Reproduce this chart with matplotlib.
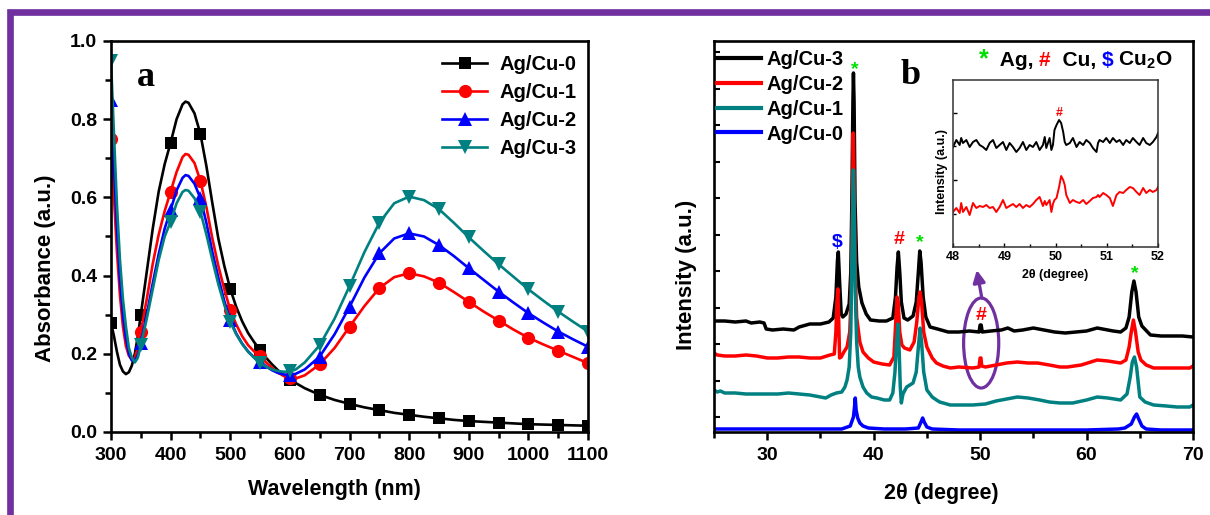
import matplotlib
matplotlib.use("Agg")
import numpy as np
import matplotlib.pyplot as plt
from matplotlib.lines import Line2D
from matplotlib.patches import Ellipse, FancyArrowPatch
from matplotlib.ticker import MultipleLocator, FixedLocator, NullFormatter
from matplotlib.offsetbox import TextArea, HPacker, AnchoredOffsetbox

plt.rcParams["font.family"] = ["Liberation Sans", "DejaVu Sans"]
plt.rcParams["font.weight"] = "bold"
plt.rcParams["axes.labelweight"] = "bold"
plt.rcParams["mathtext.fontset"] = "custom"
plt.rcParams["mathtext.rm"] = "Liberation Sans:bold"
plt.rcParams["mathtext.bf"] = "Liberation Sans:bold"
plt.rcParams["mathtext.it"] = "Liberation Sans:bold"

# ---------------- UV-vis absorbance (panel a) ----------------
wavelength = [300, 305, 310, 315, 320, 325, 330, 335, 340, 345, 350,
              360, 370, 380, 390, 400, 410, 420, 425, 430,
              440, 450, 460, 470, 480, 490, 500, 510, 520, 530, 540,
              550, 560, 570, 580, 590, 600, 610,
              625, 650, 675, 700, 725, 750, 775, 800, 825, 850, 875,
              900, 925, 950, 975, 1000, 1025, 1050, 1075, 1100]

abs_ag_cu0 = [0.28, 0.245, 0.205, 0.172, 0.155, 0.148, 0.153, 0.17, 0.20, 0.245, 0.30,
              0.41, 0.52, 0.615, 0.685, 0.74, 0.80, 0.838, 0.845, 0.842,
              0.815, 0.762, 0.68, 0.585, 0.495, 0.425, 0.366, 0.32, 0.283, 0.253, 0.23,
              0.21, 0.19, 0.173, 0.158, 0.145, 0.134, 0.125,
              0.112, 0.095, 0.082, 0.072, 0.063, 0.056, 0.049, 0.044, 0.039, 0.035, 0.031,
              0.028, 0.026, 0.024, 0.022, 0.020, 0.019, 0.018, 0.017, 0.016]

abs_ag_cu1 = [0.75, 0.60, 0.46, 0.35, 0.27, 0.22, 0.195, 0.185, 0.19, 0.215, 0.256,
              0.34, 0.43, 0.505, 0.565, 0.615, 0.665, 0.703, 0.711, 0.709,
              0.688, 0.642, 0.575, 0.495, 0.425, 0.365, 0.312, 0.275, 0.245, 0.222, 0.206,
              0.194, 0.178, 0.164, 0.152, 0.143, 0.138, 0.137,
              0.145, 0.173, 0.215, 0.269, 0.322, 0.368, 0.396, 0.406, 0.398, 0.382, 0.358,
              0.333, 0.308, 0.285, 0.262, 0.241, 0.224, 0.208, 0.192, 0.176]

abs_ag_cu2 = [0.85, 0.68, 0.52, 0.39, 0.30, 0.24, 0.20, 0.183, 0.182, 0.197, 0.227,
              0.30, 0.38, 0.455, 0.52, 0.568, 0.618, 0.65, 0.657, 0.655,
              0.635, 0.598, 0.535, 0.46, 0.395, 0.335, 0.286, 0.252, 0.226, 0.206, 0.191,
              0.18, 0.168, 0.158, 0.151, 0.147, 0.146, 0.149,
              0.16, 0.193, 0.25, 0.32, 0.395, 0.457, 0.495, 0.508, 0.50, 0.478, 0.45,
              0.419, 0.389, 0.359, 0.331, 0.304, 0.28, 0.257, 0.237, 0.218]

abs_ag_cu3 = [0.95, 0.76, 0.58, 0.44, 0.34, 0.27, 0.215, 0.19, 0.178, 0.19, 0.222,
              0.29, 0.365, 0.44, 0.50, 0.538, 0.585, 0.614, 0.619, 0.617,
              0.598, 0.563, 0.505, 0.44, 0.378, 0.325, 0.282, 0.25, 0.225, 0.205, 0.19,
              0.176, 0.167, 0.16, 0.156, 0.154, 0.155, 0.16,
              0.178, 0.222, 0.29, 0.373, 0.46, 0.535, 0.585, 0.602, 0.593, 0.57, 0.535,
              0.498, 0.463, 0.429, 0.397, 0.365, 0.336, 0.308, 0.282, 0.257]

uv_labels = ["Ag/Cu-0", "Ag/Cu-1", "Ag/Cu-2", "Ag/Cu-3"]

# ---------------- XRD patterns (panel b), stacked with offsets ----------------
tt_cu3 = [25.0, 26.0, 27.0, 28.0, 28.5, 29.3, 29.7, 29.9, 30.5, 31.5, 32.5, 33.0, 34.0, 35.0,
          35.8, 36.2, 36.45, 36.6, 36.68, 36.8, 36.95, 37.1, 37.4, 37.7, 37.85, 37.95, 38.05,
          38.1, 38.16, 38.25, 38.4, 38.6, 38.9, 39.3, 39.7, 40.5, 41.2, 41.8, 42.05, 42.2,
          42.32, 42.45, 42.6, 42.85, 43.2, 43.7, 44.0, 44.2, 44.33, 44.45, 44.65, 44.9, 45.3,
          46.0, 47.0, 48.0, 49.0, 49.9, 50.0, 50.1, 50.2, 51.0, 52.0, 52.6, 53.2, 54.0, 55.0,
          56.0, 57.0, 58.0, 59.0, 60.0, 61.0, 61.5, 62.5, 63.2, 63.7, 64.0, 64.25, 64.45,
          64.65, 64.9, 65.2, 66.0, 67.0, 68.0, 69.0, 70.0]
int_cu3 = [111, 111, 110, 111, 109, 110, 109, 103, 102, 103, 102, 105, 108, 108,
           110, 114, 135, 172, 180, 150, 118, 115, 118, 128, 160, 230, 330,
           359, 330, 230, 170, 145, 129, 118, 112, 111, 111, 114, 135, 165,
           180, 160, 130, 114, 112, 116, 130, 160, 181, 170, 135, 115, 105,
           103, 100, 100, 101, 100, 107, 107, 100, 101, 102, 104, 101, 102, 104,
           102, 100, 99, 100, 101, 104, 103, 101, 100, 104, 115, 140, 151,
           140, 115, 106, 97, 96, 96, 96, 95]

tt_cu2 = [25.0, 25.3, 26.0, 27.0, 28.0, 29.0, 30.0, 31.0, 32.0, 33.0, 34.0, 35.0, 35.9,
          36.3, 36.45, 36.55, 36.63, 36.72, 36.8, 36.95, 37.2, 37.5, 37.75, 37.9, 38.0,
          38.08, 38.15, 38.25, 38.4, 38.7, 39.0, 39.5, 40.0, 40.8, 41.5, 41.9, 42.05, 42.2,
          42.3, 42.45, 42.65, 42.9, 43.4, 43.8, 44.05, 44.25, 44.36, 44.5, 44.7, 45.0, 45.5,
          45.9, 46.5, 47.2, 48.0, 49.3, 49.9, 50.0, 50.08, 50.15, 50.5, 51.5, 52.5, 53.5,
          54.5, 55.4, 56.5, 57.5, 58.2, 59.5, 61.0, 62.0, 63.2, 63.7, 64.0, 64.2, 64.4, 64.6,
          64.85, 65.1, 65.6, 66.3, 67.5, 68.5, 69.7, 70.0]
int_cu2 = [79, 77, 76, 76, 77, 76, 74, 74, 75, 75, 74, 74, 77,
           78, 100, 130, 143, 110, 74, 75, 80, 85, 100, 140, 220,
           299, 260, 170, 115, 90, 80, 74, 70, 68, 67, 75, 105, 135,
           130, 100, 87, 84, 82, 90, 110, 135, 140, 130, 100, 85, 74,
           69, 66, 64, 65, 64, 65, 74, 74, 66, 65, 67, 69, 70,
           69, 69, 67, 65, 65, 67, 72, 71, 69, 72, 85, 100, 112, 100,
           80, 72, 67, 64, 64, 64, 64, 66]

tt_cu1 = [25.0, 25.3, 25.6, 26.0, 27.0, 28.0, 29.0, 30.0, 31.0, 32.0, 33.0, 34.0, 35.0,
          35.5, 36.0, 36.5, 37.0, 37.3, 37.5, 37.7, 37.85, 37.95, 38.05, 38.1, 38.17, 38.27,
          38.4, 38.55, 38.7, 39.0, 39.35, 39.8, 40.3, 41.0, 41.5, 41.8, 42.0, 42.15, 42.28,
          42.4, 42.5, 42.6, 42.75, 43.1, 43.7, 44.0, 44.2, 44.36, 44.5, 44.7, 45.0, 45.5,
          45.9, 46.2, 47.2, 48.5, 49.3, 50.5, 51.5, 52.5, 53.5, 54.5, 55.6, 56.5, 57.5, 58.7,
          60.0, 61.0, 62.0, 63.2, 63.8, 64.1, 64.3, 64.5, 64.7, 64.9, 65.0, 65.5, 66.3, 67.5,
          68.5, 69.7, 70.0]
int_cu1 = [42, 40, 41, 39, 39, 38, 38, 38, 38, 39, 38, 37, 35,
           34, 37, 39, 40, 45, 52, 65, 100, 170, 240, 262, 220, 140,
           90, 65, 55, 45, 39, 35, 34, 32, 32, 39, 60, 90, 108,
           80, 45, 29, 38, 45, 49, 60, 85, 104, 90, 60, 42, 35,
           32, 30, 27, 27, 27, 28, 31, 33, 35, 34, 32, 30, 29, 29,
           32, 35, 34, 32, 38, 55, 70, 75, 65, 45, 35, 30, 27, 26,
           25, 25, 27]

tt_cu0 = [25.0, 27.0, 30.0, 33.0, 35.0, 37.0, 37.8, 38.1, 38.2, 38.27, 38.35, 38.5, 38.7,
          39.0, 39.5, 41.0, 43.0, 44.2, 44.45, 44.6, 44.75, 45.0, 45.5, 48.0, 52.0, 56.0,
          60.0, 63.0, 63.6, 64.2, 64.5, 64.7, 64.9, 65.2, 65.6, 67.0, 70.0]
int_cu0 = [3, 3, 3, 3, 3, 3, 6, 15, 25, 34, 22, 14, 9,
           6, 4, 3, 3, 4, 10, 14, 10, 5, 3, 2, 2, 2,
           2, 3, 4, 8, 15, 18, 13, 6, 3, 2, 2]

# zoomed region 48-52 degrees (inset)
tt_zoom = [48.0, 48.065, 48.13, 48.16, 48.195, 48.26, 48.325, 48.39, 48.455, 48.52, 48.585,
           48.65, 48.715, 48.78, 48.845, 48.91, 48.975, 49.04, 49.105, 49.17, 49.235, 49.3,
           49.365, 49.43, 49.495, 49.56, 49.625, 49.69, 49.755, 49.79, 49.82, 49.885, 49.92,
           49.95, 49.98, 50.02, 50.07, 50.11, 50.15, 50.18, 50.21, 50.28, 50.34, 50.41, 50.47,
           50.54, 50.6, 50.67, 50.73, 50.8, 50.83, 50.86, 50.93, 50.99, 51.06, 51.12, 51.19,
           51.25, 51.32, 51.38, 51.45, 51.51, 51.58, 51.64, 51.71, 51.77, 51.84, 51.9, 51.97,
           52.0]
zoom_cu3 = [100, 107, 102, 109, 104, 107, 100, 105, 107, 102, 100, 97, 104, 107, 99, 102,
            105, 97, 104, 100, 95, 99, 105, 97, 102, 100, 105, 97, 102, 110, 99, 109, 97,
            102, 117, 122, 127, 124, 115, 105, 102, 104, 109, 100, 105, 102, 107, 104, 99,
            95, 104, 107, 105, 109, 104, 109, 105, 107, 102, 107, 104, 109, 105, 102, 109,
            104, 102, 105, 110, 114]
zoom_cu2 = [35, 39, 34, 44, 35, 40, 32, 44, 39, 41, 40, 42, 39, 40, 35, 40, 47, 39, 41,
            43, 40, 43, 39, 42, 40, 43, 47, 50, 41, 46, 42, 47, 35, 43, 47, 49, 60, 71, 67,
            62, 52, 44, 47, 45, 44, 47, 43, 46, 49, 50, 52, 50, 54, 52, 49, 41, 52, 55, 54,
            57, 60, 59, 55, 52, 59, 54, 57, 55, 57, 60]

xrd_labels = ["Ag/Cu-3", "Ag/Cu-2", "Ag/Cu-1", "Ag/Cu-0"]

# ---------------- figure layout ----------------
W, H = 1210, 515
fig = plt.figure(figsize=(W / 100, H / 100), dpi=100)
fig.patch.set_facecolor("white")


def px_box(x0, y0, x1, y1):
    return [x0 / W, 1 - y1 / H, (x1 - x0) / W, (y1 - y0) / H]


ax_a = fig.add_axes(px_box(111, 41, 588, 432))
ax_b = fig.add_axes(px_box(714, 41, 1193, 432))
ax_in = fig.add_axes(px_box(953, 80, 1158, 247))

PURPLE = "#7030a0"
TEAL = "#008080"
LIME = "#00e000"

# border of the figure (left and top edges)
fig.add_artist(Line2D([10.3 / W, 10.3 / W, 1.0], [0.0, 1 - 12 / H, 1 - 12 / H],
                      transform=fig.transFigure, color=PURPLE, lw=4.8,
                      solid_joinstyle="miter", solid_capstyle="butt"))

# ---------- panel a ----------
wl = np.array(wavelength)
mark_idx = [i for i, w in enumerate(wavelength) if w % 50 == 0]
series_a = [abs_ag_cu0, abs_ag_cu1, abs_ag_cu2, abs_ag_cu3]
colors_a = ["black", "red", "blue", TEAL]
markers_a = ["s", "o", "^", "v"]
msizes_a = [9, 9.5, 10, 10]
for vals, lab, c, m, ms in zip(series_a, uv_labels, colors_a, markers_a, msizes_a):
    ax_a.plot(wl, vals, color=c, lw=1.9, marker=m, ms=ms, markevery=mark_idx,
              markeredgewidth=0, label=lab)

ax_a.set_xlim(300, 1100)
ax_a.set_ylim(0, 1.0)
ax_a.xaxis.set_major_locator(MultipleLocator(100))
ax_a.xaxis.set_minor_locator(MultipleLocator(50))
ax_a.yaxis.set_major_locator(MultipleLocator(0.2))
ax_a.yaxis.set_minor_locator(MultipleLocator(0.1))
ax_a.yaxis.set_major_formatter(matplotlib.ticker.FormatStrFormatter("%.1f"))
ax_a.tick_params(which="both", direction="out", width=1.8, top=False, right=False,
                 labelsize=14)
ax_a.tick_params(which="major", length=6, pad=4)
ax_a.tick_params(axis="x", which="major", pad=5)
ax_a.tick_params(which="minor", length=4)
for sp in ax_a.spines.values():
    sp.set_linewidth(1.9)
ax_a.set_xlabel("Wavelength (nm)", fontsize=15.5, va="center")
ax_a.xaxis.set_label_coords((334 - 111) / 477, (432 - 490) / 391)
ax_a.set_ylabel("Absorbance (a.u.)", fontsize=16, va="center")
ax_a.yaxis.set_label_coords((46 - 111) / 477, (432 - 268) / 391)
ax_a.text((146 - 111) / 477, (432 - 78) / 391, "a", transform=ax_a.transAxes,
          family="Liberation Serif", fontsize=26, fontweight="bold",
          ha="center", va="center")
leg_a = ax_a.legend(loc="upper left", bbox_to_anchor=((442 - 111) / 477, (432 - 55) / 391),
                    frameon=False, fontsize=14.5, handlelength=2.25, handletextpad=0.6,
                    labelspacing=0.44, borderpad=0, borderaxespad=0)

# ---------- panel b ----------
series_b = [(tt_cu3, int_cu3), (tt_cu2, int_cu2), (tt_cu1, int_cu1), (tt_cu0, int_cu0)]
colors_b = ["black", "red", TEAL, "blue"]
for (tt, ii), lab, c in zip(series_b, xrd_labels, colors_b):
    ax_b.plot(tt, ii, color=c, lw=2.5, label=lab)

ax_b.set_xlim(25, 70)
ax_b.set_ylim(0, 391)
ax_b.xaxis.set_major_locator(MultipleLocator(10))
ax_b.xaxis.set_minor_locator(MultipleLocator(5))
ax_b.yaxis.set_major_locator(FixedLocator([15 + 36.5 * k for k in range(11)]))
ax_b.yaxis.set_major_formatter(NullFormatter())
ax_b.tick_params(axis="x", which="both", direction="out", width=1.8, top=False,
                 labelsize=14)
ax_b.tick_params(axis="x", which="major", length=6, pad=5)
ax_b.tick_params(axis="x", which="minor", length=4)
ax_b.tick_params(axis="y", which="both", direction="in", length=4, width=1.5,
                 right=False)
for sp in ax_b.spines.values():
    sp.set_linewidth(1.9)
ax_b.set_xlabel("2θ (degree)", fontsize=15.5, va="center")
ax_b.xaxis.set_label_coords((941 - 714) / 479, (432 - 494) / 391)
ax_b.set_ylabel("Intensity (a.u.)", fontsize=16, va="center")
ax_b.yaxis.set_label_coords((686 - 714) / 479, (432 - 275) / 391)
ax_b.text((911 - 714) / 479, (432 - 75) / 391, "b", transform=ax_b.transAxes,
          family="Liberation Serif", fontsize=26, fontweight="bold",
          ha="center", va="center")
leg_b = ax_b.legend(loc="upper left", bbox_to_anchor=((717 - 714) / 479, (432 - 50) / 391),
                    frameon=False, fontsize=14.5, handlelength=2.2, handletextpad=0.25,
                    labelspacing=0.29, borderpad=0, borderaxespad=0)
for h in leg_b.legend_handles:
    h.set_linewidth(3)

# phase markers above the diffraction peaks
peak_marks = [(36.56, 185, "$", "blue"), (42.39, 188, "#", "red"),
              (44.36, 185, "*", LIME), (38.25, 358, "*", LIME),
              (64.57, 154, "*", LIME), (50.09, 112, "#", "red")]
for x, y, s, c in peak_marks:
    ax_b.text(x, y, s, color=c, fontsize=14, fontweight="bold", ha="center",
              va="baseline", parse_math=False)

# phase legend: * Ag, # Cu, $ Cu2O
pieces = [TextArea("*", textprops=dict(color=LIME, fontsize=18, fontweight="bold", parse_math=False)),
          TextArea("  Ag, ", textprops=dict(color="black", fontsize=15, fontweight="bold")),
          TextArea("#", textprops=dict(color="red", fontsize=15, fontweight="bold", parse_math=False)),
          TextArea("  Cu, ", textprops=dict(color="black", fontsize=15, fontweight="bold")),
          TextArea("$", textprops=dict(color="blue", fontsize=15, fontweight="bold", parse_math=False)),
          TextArea(" Cu$_2$O", textprops=dict(color="black", fontsize=15, fontweight="bold"))]
phase_box = AnchoredOffsetbox(loc="upper right", child=HPacker(children=pieces, align="baseline", pad=0, sep=0),
                              bbox_to_anchor=((1173 - 714) / 479, (432 - 47) / 391),
                              bbox_transform=ax_b.transAxes, frameon=False, pad=0, borderpad=0)
ax_b.add_artist(phase_box)

# highlighted Cu reflection near 50 degrees
ax_b.add_patch(Ellipse((50.1, 89), width=3.3, height=90, fill=False, ec=PURPLE, lw=2.3))
ax_b.add_patch(FancyArrowPatch((50.16, 134), (49.69, 162), arrowstyle="-|>",
                               mutation_scale=18, color=PURPLE, lw=2.3,
                               shrinkA=0, shrinkB=0))

# ---------- inset ----------
ax_in.plot(tt_zoom, zoom_cu3, color="black", lw=1.4)
ax_in.plot(tt_zoom, zoom_cu2, color="red", lw=1.4)
ax_in.set_xlim(48, 52)
ax_in.set_ylim(0, 167)
ax_in.xaxis.set_major_locator(MultipleLocator(1))
ax_in.xaxis.set_minor_locator(MultipleLocator(0.5))
ax_in.yaxis.set_major_locator(FixedLocator([67, 134]))
ax_in.yaxis.set_minor_locator(FixedLocator([33.5, 100.5]))
ax_in.yaxis.set_major_formatter(NullFormatter())
ax_in.tick_params(which="both", direction="in", width=1, top=False, right=False,
                  labelsize=9, pad=3)
ax_in.tick_params(which="major", length=3)
ax_in.tick_params(which="minor", length=2)
for sp in ax_in.spines.values():
    sp.set_linewidth(1.1)
    sp.set_color("#333333")
ax_in.set_xlabel("2θ (degree)", fontsize=9, va="center")
ax_in.xaxis.set_label_coords(0.5, (247 - 275) / 167)
ax_in.set_ylabel("Intensity (a.u.)", fontsize=9, va="center")
ax_in.yaxis.set_label_coords((941.6 - 953) / 205, (247 - 171.5) / 167)
ax_in.text(50.08, 131, "#", color="red", fontsize=9, fontweight="bold", ha="center",
           va="baseline", parse_math=False)

fig.savefig("out.png", dpi=100, facecolor="white")
